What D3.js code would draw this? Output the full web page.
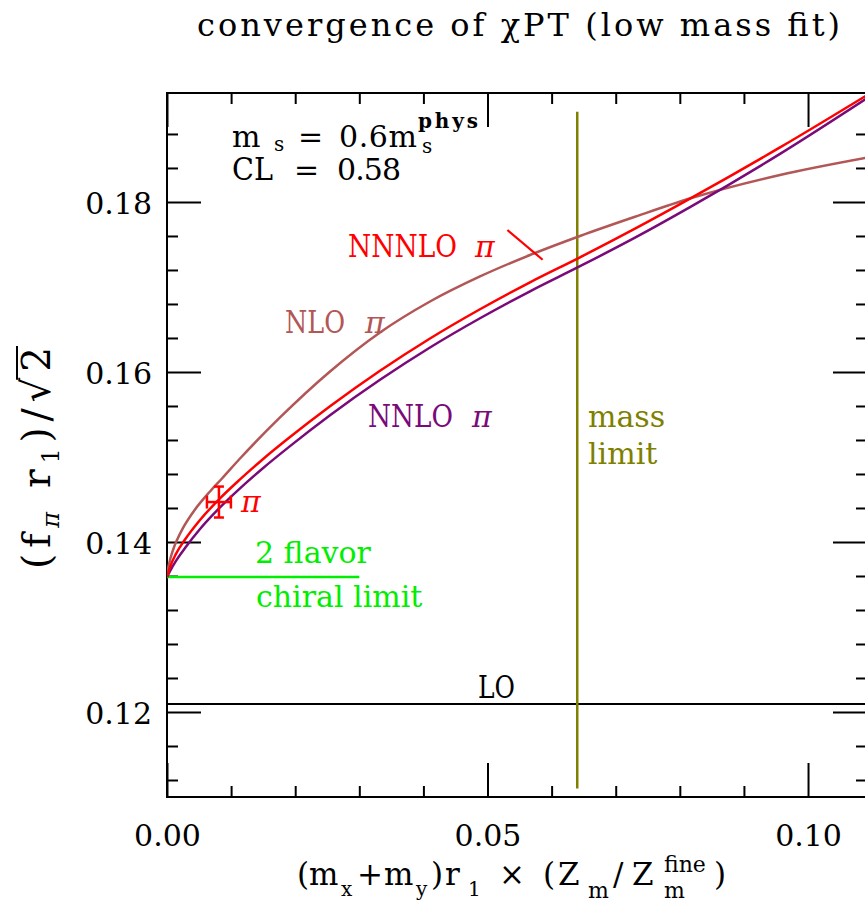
<!DOCTYPE html>
<html><head><meta charset="utf-8">
<script src="https://cdn.jsdelivr.net/npm/d3@7"></script>
<style>
html,body{margin:0;padding:0;background:#fff;overflow:hidden}
svg{display:block}
text{font-family:"DejaVu Serif",serif}
</style></head><body>
<svg id="chart" width="865" height="906"></svg>
<script>
// ---- data ----
const nloPts = [[0,0.13588],[0.00016,0.13682],[0.00047,0.13788],[0.00094,0.13906],[0.00156,0.14024],[0.0025,0.14165],[0.00437,0.14382],[0.00671,0.14594],[0.00858,0.14747],[0.01139,0.14982],[0.01763,0.15465],[0.02543,0.16006],[0.03323,0.16465],[0.04103,0.16829],[0.04883,0.17124],[0.05663,0.17376],[0.06443,0.17600],[0.07301,0.17826],[0.08206,0.18052],[0.09563,0.18318],[0.10920,0.18522]];
const nnloPts = [[0,0.13588],[0.00047,0.13658],[0.0014,0.13778],[0.00281,0.13929],[0.00515,0.14153],[0.00827,0.14407],[0.01139,0.14631],[0.01482,0.14859],[0.01919,0.15128],[0.02543,0.15491],[0.03323,0.15908],[0.04103,0.16288],[0.04883,0.16632],[0.05663,0.16949],[0.06443,0.17244],[0.07301,0.17580],[0.08159,0.17939],[0.09563,0.18566],[0.10920,0.19221]];
const nnnloPts = [[0,0.13588],[0.00047,0.13705],[0.0014,0.13860],[0.00281,0.14029],[0.00515,0.14259],[0.00827,0.14513],[0.01139,0.14736],[0.01482,0.14965],[0.01919,0.15234],[0.02543,0.15596],[0.03323,0.16014],[0.04103,0.16394],[0.04883,0.16738],[0.05663,0.17055],[0.06443,0.17349],[0.07301,0.17686],[0.08159,0.18039],[0.09563,0.18642],[0.10920,0.19257]];
const chiralLimit = 0.13588;
const chiralLineX = [0, 0.030];
const loValue = 0.12094;
const massLimit = 0.064;
const massLimitY = [0.1110, 0.1906];
const dataPoint = {x:0.0081, y:0.1447, xerr:0.00187, yerr:0.00182};
const xMajorTicks = [0, 0.05, 0.10];
const xTickLabels = ["0.00","0.05","0.10"];
const xMinorTicks = [0.01,0.02,0.03,0.04,0.06,0.07,0.08,0.09];
const yMajorTicks = [0.12,0.14,0.16,0.18];
const yTickLabels = ["0.12","0.14","0.16","0.18"];
const yMinorTicks = [0.112,0.116,0.124,0.128,0.132,0.136,0.144,0.148,0.152,0.156,0.164,0.168,0.172,0.176,0.184,0.188];
const pointerFrom = [0.0531, 0.1767];
const pointerTo = [0.0586, 0.1732];

// ---- colours ----
const C_NLO = "#b35656", C_NNLO = "#7a0a7a", C_NNNLO = "#ff0000", C_MASS = "#808000", C_CHIRAL = "#00ee00";

const svg = d3.select("#chart");
const L = 167, R = 867, T = 93, B = 797;
const x = d3.scaleLinear().domain([0, 0.1092]).range([L, R]);
const y = d3.scaleLinear().domain([0.110, 0.19282]).range([B, T]);

// frame
svg.append("rect").attr("x", L).attr("y", T).attr("width", R - L).attr("height", B - T)
  .attr("fill", "none").attr("stroke", "#000").attr("stroke-width", 2);

function styleAxis(g){
  g.select(".domain").remove();
  g.selectAll("line").attr("stroke","#000").attr("stroke-width",2);
  g.attr("font-family", null).attr("font-size", null);
  g.selectAll("text").attr("fill","#000").style("font-family","'DejaVu Serif',serif").style("font-size","30px");
}
const fmtX = d=>xTickLabels[xMajorTicks.indexOf(d)];
const fmtY = d=>yTickLabels[yMajorTicks.indexOf(d)];
svg.append("g").attr("transform",`translate(0,${B})`).call(d3.axisBottom(x).tickValues(xMajorTicks).tickSize(-34).tickPadding(28).tickFormat(fmtX)).call(styleAxis);
svg.append("g").attr("transform",`translate(0,${B})`).call(d3.axisBottom(x).tickValues(xMinorTicks).tickSize(-11).tickFormat("")).call(styleAxis);
svg.append("g").attr("transform",`translate(0,${T})`).call(d3.axisTop(x).tickValues(xMajorTicks).tickSize(-34).tickFormat("")).call(styleAxis);
svg.append("g").attr("transform",`translate(0,${T})`).call(d3.axisTop(x).tickValues(xMinorTicks).tickSize(-11).tickFormat("")).call(styleAxis);
const gl = svg.append("g").attr("transform",`translate(${L},0)`).call(d3.axisLeft(y).tickValues(yMajorTicks).tickSize(-34).tickPadding(15).tickFormat(fmtY)).call(styleAxis);
gl.selectAll("text").attr("dy","0.4em");
svg.append("g").attr("transform",`translate(${L},0)`).call(d3.axisLeft(y).tickValues(yMinorTicks).tickSize(-11).tickFormat("")).call(styleAxis);
svg.append("g").attr("transform",`translate(${R},0)`).call(d3.axisRight(y).tickValues(yMajorTicks).tickSize(-34).tickFormat("")).call(styleAxis);
svg.append("g").attr("transform",`translate(${R},0)`).call(d3.axisRight(y).tickValues(yMinorTicks).tickSize(-11).tickFormat("")).call(styleAxis);

// LO line
svg.append("line").attr("x1", x(0)).attr("x2", R).attr("y1", y(loValue)).attr("y2", y(loValue))
  .attr("stroke","#000").attr("stroke-width",2);
// chiral limit line
svg.append("line").attr("x1", x(chiralLineX[0])).attr("x2", x(chiralLineX[1])).attr("y1", y(chiralLimit)).attr("y2", y(chiralLimit))
  .attr("stroke",C_CHIRAL).attr("stroke-width",2.5);
// mass limit
svg.append("line").attr("x1", x(massLimit)).attr("x2", x(massLimit)).attr("y1", y(massLimitY[0])).attr("y2", y(massLimitY[1]))
  .attr("stroke",C_MASS).attr("stroke-width",2.5);

// curves
const line = d3.line().x(d=>x(d[0])).y(d=>y(d[1])).curve(d3.curveMonotoneX);
svg.append("clipPath").attr("id","clip").append("rect").attr("x",L).attr("y",T).attr("width",R-L).attr("height",B-T);
[[nloPts,C_NLO],[nnloPts,C_NNLO],[nnnloPts,C_NNNLO]].forEach(([pts,c])=>{
  svg.append("path").attr("d", line(pts)).attr("fill","none").attr("stroke",c).attr("stroke-width",2.5).attr("clip-path","url(#clip)");
});

// pointer for NNNLO label
svg.append("line").attr("x1",x(pointerFrom[0])).attr("y1",y(pointerFrom[1])).attr("x2",x(pointerTo[0])).attr("y2",y(pointerTo[1]))
  .attr("stroke",C_NNNLO).attr("stroke-width",2.2);

// data point with error bars
const dp = svg.append("g").attr("stroke",C_NNNLO).attr("stroke-width",2.5).attr("fill","none");
const cx = x(dataPoint.x), cy = y(dataPoint.y);
const xl = x(dataPoint.x - dataPoint.xerr), xr = x(dataPoint.x + dataPoint.xerr);
const yt = y(dataPoint.y + dataPoint.yerr), yb = y(dataPoint.y - dataPoint.yerr);
dp.append("line").attr("x1",xl).attr("x2",xr).attr("y1",cy).attr("y2",cy);
dp.append("line").attr("x1",cx).attr("x2",cx).attr("y1",yt).attr("y2",yb);
dp.append("line").attr("x1",xl).attr("x2",xl).attr("y1",cy-6.5).attr("y2",cy+6.5);
dp.append("line").attr("x1",xr).attr("x2",xr).attr("y1",cy-6.5).attr("y2",cy+6.5);
dp.append("line").attr("x1",cx-5).attr("x2",cx+5).attr("y1",yt).attr("y2",yt);
dp.append("line").attr("x1",cx-5).attr("x2",cx+5).attr("y1",yb).attr("y2",yb);

// ---- texts ----
function txt(s, px, py, size, color, opts={}){
  const t = svg.append("text").attr("x",px).attr("y",py).attr("font-size",size).attr("fill",color||"#000").text(s);
  if(opts.anchor) t.attr("text-anchor",opts.anchor);
  if(opts.len) t.attr("textLength",opts.len).attr("lengthAdjust",opts.adj||"spacing");
  if(opts.style) t.attr("font-style",opts.style);
  return t;
}
// title
txt("convergence of χPT (low mass fit)", 197, 36, 32, "#000", {len:643});

// curve labels
txt("NNNLO", 348, 257, 31, C_NNNLO, {len:109, adj:"spacingAndGlyphs"});
txt("π", 475, 257, 30, C_NNNLO, {style:"italic"});
txt("NLO", 285, 333, 31, C_NLO, {len:60, adj:"spacingAndGlyphs"});
txt("π", 365, 333, 30, C_NLO, {style:"italic"});
txt("NNLO", 368, 427, 31, C_NNLO, {len:85, adj:"spacingAndGlyphs"});
txt("π", 472, 427, 30, C_NNLO, {style:"italic"});
txt("π", 241, 512, 30, C_NNNLO, {style:"italic"});
txt("mass", 588, 427, 30, C_MASS);
txt("limit", 588, 464, 30, C_MASS);
txt("2 flavor", 255, 563, 30, C_CHIRAL);
txt("chiral limit", 256, 607, 30, C_CHIRAL);
txt("LO", 478, 698, 31, "#000", {len:37, adj:"spacingAndGlyphs"});

// parameter box
txt("m", 232, 147, 30, "#000");
txt("s", 274, 151, 20, "#000");
txt("=", 298, 147, 30, "#000");
txt("0.6m", 339, 147, 30, "#000", {len:78});
txt("s", 422, 153, 20, "#000");
txt("phys", 418, 128, 20, "#000", {len:60}).attr("font-weight","bold");
txt("CL", 232, 180, 31, "#000", {len:41, adj:"spacingAndGlyphs"});
txt("=", 294, 180, 30, "#000");
txt("0.58", 337, 180, 30, "#000", {len:64});

// x axis label (pieces placed along the baseline)
const xlab = svg.append("text").attr("fill","#000").attr("font-size",31);
const xParts = [
  ["(",297,885,31],["m",309,885,31],["x",341,896,20],["+",357,885,31],["m",384,885,31],["y",416,896,20],
  [")",431,885,31],["r",445,885,31],["1",468,896,20],["×",499,885,31],["(",543,885,31],["Z",558,885,31],
  ["m",588,898,22],["/",613,885,31],["Z",632,885,31],["m",664,898,22],["fine",664,872,22],[")",714,885,31]
];
xParts.forEach(([s,px,py,fs])=>xlab.append("tspan").attr("x",px).attr("y",py).attr("font-size",fs).text(s));

// y axis label
const yg = svg.append("g").attr("transform","translate(50,458) rotate(-90)");
const yl_t = yg.append("text").attr("x",0).attr("y",0).attr("font-size",39).attr("fill","#000")
  .attr("text-anchor","middle").attr("textLength",222).attr("lengthAdjust","spacing");
yl_t.append("tspan").text("(f");
yl_t.append("tspan").attr("font-size",24).attr("font-style","italic").attr("dy",9).text("π");
yl_t.append("tspan").attr("dy",-9).text(" r");
yl_t.append("tspan").attr("font-size",24).attr("dy",9).text("1");
yl_t.append("tspan").attr("dy",-9).text(")/√2");
try{
  const n = yl_t.node().getNumberOfChars();
  const ext2 = yl_t.node().getExtentOfChar(n-1);
  const extR = yl_t.node().getExtentOfChar(n-2);
  yg.append("line").attr("x1",extR.x+extR.width-2).attr("x2",ext2.x+ext2.width+1)
    .attr("y1",-33).attr("y2",-33).attr("stroke","#000").attr("stroke-width",2);
}catch(e){}
</script>
</body></html>
